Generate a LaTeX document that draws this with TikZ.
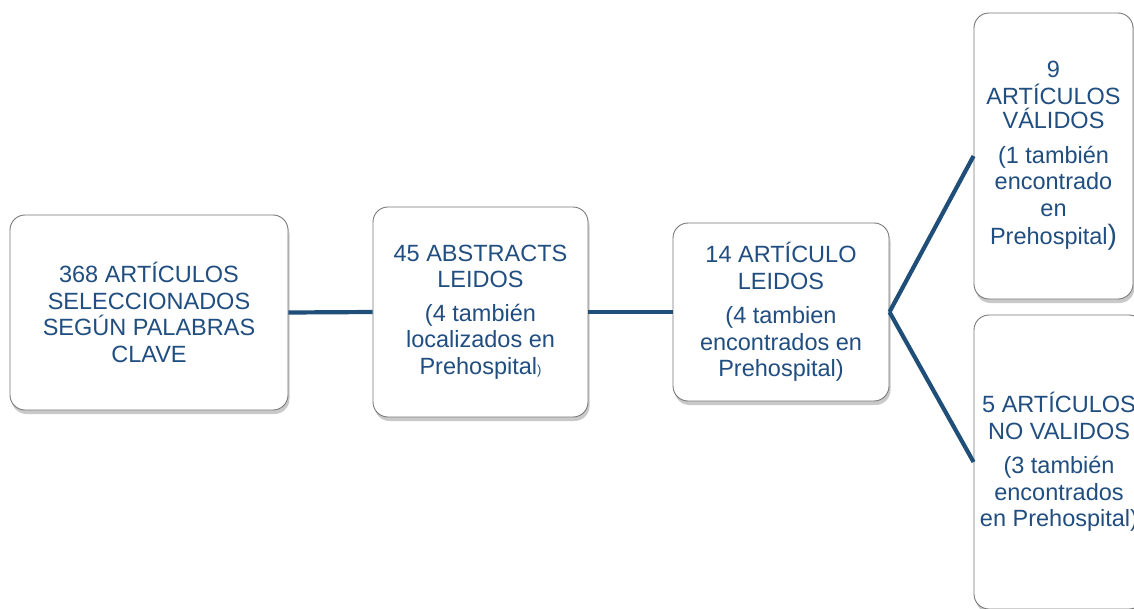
\documentclass[tikz,border=0pt]{standalone}
\usepackage{fontspec}
\setmainfont{Liberation Sans}
\usetikzlibrary{shadows}
\definecolor{txtblue}{RGB}{33,78,128}
\definecolor{lineblue}{RGB}{31,78,121}
\definecolor{boxborder}{RGB}{120,120,120}
\begin{document}
\begin{tikzpicture}[x=1pt,y=-1pt,
  box/.style={draw=boxborder, line width=0.9pt, fill=white, rounded corners=15pt,
    align=center, text=txtblue, inner sep=0pt,
    font=\fontsize{23.5}{26.5}\selectfont,
    drop shadow={shadow xshift=1.5pt, shadow yshift=-4pt, opacity=0.3, fill=black!70}},
  conn/.style={draw=lineblue, line width=4.2pt}]
\useasboundingbox (0,0) rectangle (1134,608);
\node[box, minimum width=278pt, minimum height=195pt] (b1) at (149,312.5)
  {368 ARTÍCULOS\\SELECCIONADOS\\SEGÚN PALABRAS\\CLAVE};
\node[box, minimum width=215pt, minimum height=210pt] (b2) at (480.5,312)
  {45 ABSTRACTS\\LEIDOS\\[7pt](4 también\\localizados en\\Prehospital{\fontsize{13}{13}\selectfont)}};
\node[box, minimum width=216pt, minimum height=178pt] (b3) at (781,312)
  {14 ARTÍCULO\\LEIDOS\\[8pt](4 tambien\\encontrados en\\Prehospital)};
\node[box, minimum width=159pt, minimum height=286pt] (b4) at (1053.5,156)
  {9\\ARTÍCULOS\\[-2pt]VÁLIDOS\\[8pt](1 también\\encontrado\\en\\[2pt]Prehospital{\fontsize{28}{28}\selectfont)}};
\node[box, minimum width=170pt, minimum height=294pt] (b5) at (1059,462)
  {5 ARTÍCULOS\\NO VALIDOS\\[8pt](3 también\\encontrados\\en Prehospital)};
\draw[conn] (b1.east) -- (b2.west);
\draw[conn] (b2.east) -- (b3.west);
\draw[conn] (b3.east) -- (b4.west);
\draw[conn] (b3.east) -- (b5.west);
\end{tikzpicture}
\end{document}
